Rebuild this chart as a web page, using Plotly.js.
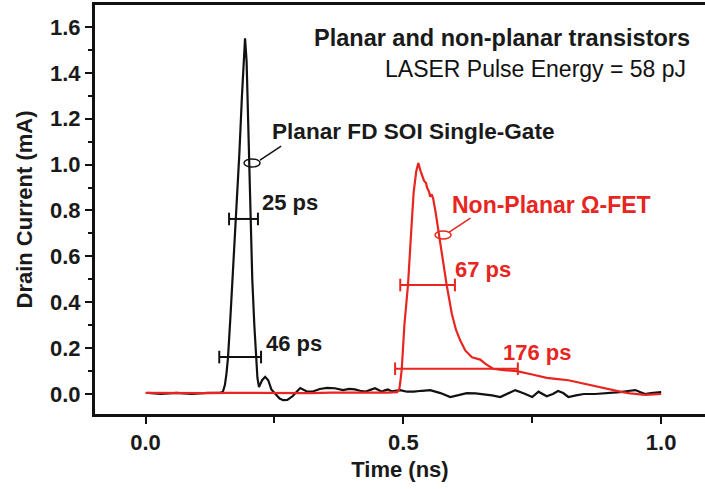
<!DOCTYPE html>
<html>
<head>
<meta charset="utf-8">
<script src="https://cdn.plot.ly/plotly-3.0.1.min.js"></script>
<style>html,body{margin:0;padding:0;background:#fff;}#chart{width:705px;height:489px;}</style>
</head>
<body>
<div id="chart"></div>
<script>
// Planar FD SOI single-gate transient (black)
const planarTime = [0.005,0.03,0.06,0.09,0.12,0.145,0.150,0.154,0.157,0.160,0.165,0.170,0.176,0.182,0.187,0.191,0.193,0.196,0.199,0.203,0.207,0.211,0.214,0.217,0.220,0.226,0.232,0.238,0.244,0.252,0.260,0.267,0.275,0.285,0.300,0.312,0.323,0.338,0.352,0.367,0.383,0.395,0.406,0.416,0.426,0.436,0.445,0.452,0.458,0.464,0.470,0.477,0.484,0.494,0.507,0.520,0.536,0.552,0.572,0.591,0.607,0.623,0.640,0.655,0.672,0.688,0.703,0.717,0.733,0.750,0.762,0.778,0.790,0.800,0.810,0.820,0.835,0.850,0.872,0.890,0.905,0.920,0.935,0.950,0.960,0.969,0.980,0.994,1.000];
const planarCurrent = [0.005,0.0,0.005,0.0,0.005,0.005,0.01,0.04,0.09,0.16,0.35,0.55,0.76,1.05,1.30,1.50,1.55,1.45,1.20,0.76,0.50,0.30,0.16,0.07,0.03,0.06,0.075,0.06,0.02,0.0,-0.02,-0.027,-0.026,-0.01,0.026,0.012,0.01,0.022,0.027,0.025,0.017,0.022,0.02,0.014,0.01,0.018,0.025,0.017,0.01,0.016,0.02,0.012,0.015,0.017,0.01,0.01,0.014,0.017,0.004,-0.013,-0.005,0.004,0.003,0.0,-0.006,-0.013,0.002,0.017,0.003,-0.013,0.01,-0.01,0.0,0.013,0.004,-0.013,-0.006,0.0,0.0,0.002,0.005,0.008,0.013,0.017,0.008,0.0,0.004,0.009,0.008];
// Non-planar Omega-FET transient (red)
const omegaTime = [0.0,0.04,0.08,0.12,0.16,0.20,0.24,0.28,0.32,0.36,0.40,0.44,0.47,0.488,0.492,0.494,0.497,0.502,0.509,0.515,0.520,0.525,0.529,0.533,0.537,0.540,0.544,0.546,0.550,0.552,0.555,0.558,0.562,0.566,0.575,0.584,0.594,0.602,0.610,0.620,0.633,0.641,0.649,0.660,0.674,0.690,0.720,0.750,0.778,0.800,0.820,0.840,0.860,0.880,0.905,0.925,0.940,0.955,0.969,0.985,1.000];
const omegaCurrent = [0.005,0.004,0.006,0.004,0.005,0.004,0.006,0.005,0.004,0.006,0.005,0.006,0.006,0.008,0.02,0.05,0.11,0.30,0.475,0.70,0.88,0.97,1.007,0.975,0.95,0.93,0.92,0.90,0.88,0.86,0.87,0.85,0.80,0.74,0.60,0.475,0.35,0.28,0.235,0.19,0.16,0.155,0.15,0.13,0.11,0.105,0.10,0.085,0.07,0.065,0.06,0.05,0.04,0.03,0.017,0.008,0.003,-0.002,-0.004,-0.002,0.0];
// Pulse-width markers
const planarWidthLabels = ['25 ps','46 ps'];
const planarWidthLevel = [0.763,0.161];
const planarWidthStart = [0.162,0.143];
const planarWidthEnd = [0.218,0.224];
const omegaWidthLabels = ['67 ps','176 ps'];
const omegaWidthLevel = [0.475,0.11];
const omegaWidthStart = [0.494,0.484];
const omegaWidthEnd = [0.600,0.722];
const xTickVals = [0,0.5,1.0];
const xTickText = ['0.0','0.5','1.0'];
const yTickVals = [0,0.2,0.4,0.6,0.8,1.0,1.2,1.4,1.6];
const yTickText = ['0.0','0.2','0.4','0.6','0.8','1.0','1.2','1.4','1.6'];

const BLACK = '#111111';
const RED = '#e8251e';
const FONT = 'Liberation Sans, Arial, Helvetica, sans-serif';

const traces = [];
traces.push({x: planarTime, y: planarCurrent, mode: 'lines', line: {color: BLACK, width: 2.2}, hoverinfo: 'skip', showlegend: false});
traces.push({x: omegaTime, y: omegaCurrent, mode: 'lines', line: {color: RED, width: 2.2}, hoverinfo: 'skip', showlegend: false});
for (let i = 0; i < planarWidthLevel.length; i++) {
  traces.push({x: [planarWidthStart[i], planarWidthEnd[i]], y: [planarWidthLevel[i], planarWidthLevel[i]], mode: 'lines+markers',
    line: {color: BLACK, width: 2}, marker: {symbol: 'line-ns-open', size: 9, line: {color: BLACK, width: 2}}, hoverinfo: 'skip', showlegend: false});
}
for (let i = 0; i < omegaWidthLevel.length; i++) {
  traces.push({x: [omegaWidthStart[i], omegaWidthEnd[i]], y: [omegaWidthLevel[i], omegaWidthLevel[i]], mode: 'lines+markers',
    line: {color: RED, width: 2}, marker: {symbol: 'line-ns-open', size: 9, line: {color: RED, width: 2}}, hoverinfo: 'skip', showlegend: false});
}

const annFont = (c, s, w) => ({family: FONT, size: s, color: c, weight: w});
const annotations = [
  {x: 1.060, y: 1.552, xanchor: 'right', text: 'Planar and non-planar transistors', font: annFont('#1a1a1a', 23.5, 'bold')},
  {x: 1.052, y: 1.417, xanchor: 'right', text: 'LASER Pulse Energy = 58 pJ', font: annFont('#111111', 23, 'normal')},
  {x: 0.2415, y: 1.146, xanchor: 'left', text: 'Planar FD SOI Single-Gate', font: annFont('#1a1a1a', 22.6, 'bold')},
  {x: 0.222, y: 0.833, xanchor: 'left', text: planarWidthLabels[0], font: annFont('#1a1a1a', 22, 'bold')},
  {x: 0.230, y: 0.222, xanchor: 'left', text: planarWidthLabels[1], font: annFont('#1a1a1a', 22, 'bold')},
  {x: 0.591, y: 0.824, xanchor: 'left', text: 'Non-Planar Ω-FET', font: annFont(RED, 23, 'bold')},
  {x: 0.597, y: 0.541, xanchor: 'left', text: omegaWidthLabels[0], font: annFont(RED, 22, 'bold')},
  {x: 0.690, y: 0.179, xanchor: 'left', text: omegaWidthLabels[1], font: annFont(RED, 22, 'bold')}
].map(a => Object.assign({xref: 'x', yref: 'y', showarrow: false, yanchor: 'middle'}, a));

const shapes = [
  {type: 'circle', xref: 'x', yref: 'y', xsizemode: 'pixel', ysizemode: 'pixel', xanchor: 0.2066, yanchor: 1.007, x0: -8, x1: 8, y0: -4, y1: 4, line: {color: BLACK, width: 1.5}},
  {type: 'line', xref: 'x', yref: 'y', x0: 0.222, y0: 1.020, x1: 0.263, y1: 1.081, line: {color: BLACK, width: 1.5}},
  {type: 'circle', xref: 'x', yref: 'y', xsizemode: 'pixel', ysizemode: 'pixel', xanchor: 0.577, yanchor: 0.693, x0: -8, x1: 8, y0: -4, y1: 4, line: {color: RED, width: 1.5}},
  {type: 'line', xref: 'x', yref: 'y', x0: 0.589, y0: 0.706, x1: 0.630, y1: 0.767, line: {color: RED, width: 1.5}}
];

const layout = {
  width: 705, height: 489,
  margin: {l: 95, r: 0, t: 5, b: 75},
  paper_bgcolor: '#ffffff', plot_bgcolor: '#ffffff',
  font: {family: FONT, color: '#1a1a1a'},
  xaxis: {
    range: [-0.098, 1.085], showgrid: false, zeroline: false,
    showline: true, linecolor: BLACK, linewidth: 3, mirror: true,
    ticks: 'outside', ticklen: 7, tickwidth: 2, tickcolor: BLACK,
    tickvals: xTickVals, ticktext: xTickText,
    minor: {tickvals: [0.25, 0.75], ticks: 'outside', ticklen: 6, tickwidth: 2, tickcolor: BLACK},
    tickfont: {family: FONT, size: 22, color: '#1a1a1a', weight: 'bold'},
    title: {text: 'Time (ns)', font: {family: FONT, size: 22, color: '#1a1a1a', weight: 'bold'}, standoff: 8}
  },
  yaxis: {
    range: [-0.0872, 1.6957], showgrid: false, zeroline: false,
    showline: true, linecolor: BLACK, linewidth: 3, mirror: false,
    ticks: 'outside', ticklen: 7, tickwidth: 2, tickcolor: BLACK,
    tickvals: yTickVals, ticktext: yTickText,
    minor: {dtick: 0.1, tick0: 0, ticks: 'outside', ticklen: 4, tickwidth: 2, tickcolor: BLACK},
    tickfont: {family: FONT, size: 22, color: '#1a1a1a', weight: 'bold'},
    title: {text: 'Drain Current (mA)', font: {family: FONT, size: 22, color: '#1a1a1a', weight: 'bold'}, standoff: 12}
  },
  annotations: annotations,
  shapes: shapes
};

Plotly.newPlot('chart', traces, layout, {displayModeBar: false, staticPlot: true});
</script>
</body>
</html>
